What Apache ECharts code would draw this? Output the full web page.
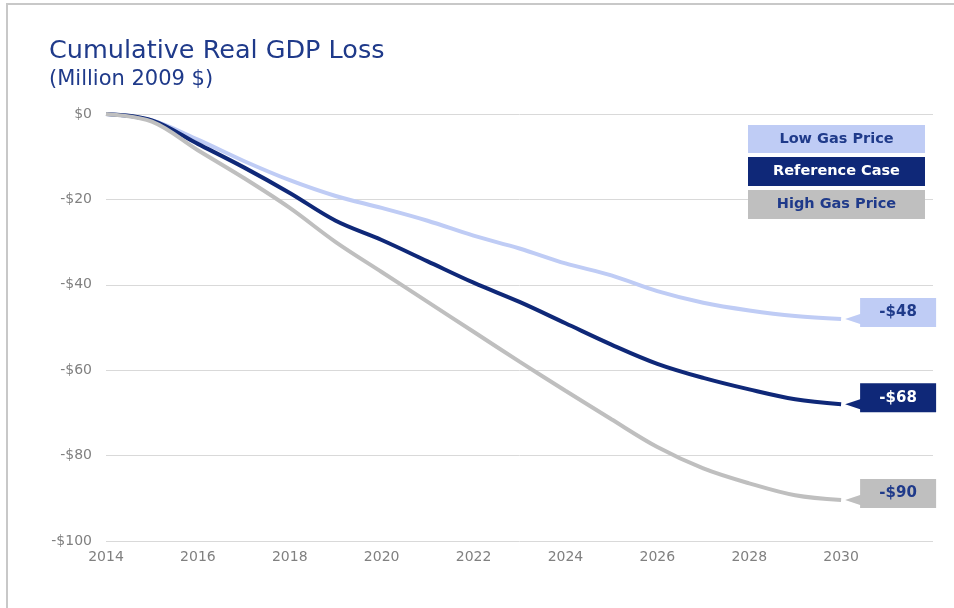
<!DOCTYPE html>
<html>
<head>
<meta charset="utf-8">
<script src="https://cdn.jsdelivr.net/npm/echarts@6/dist/echarts.min.js"></script>
<style>
  html, body { margin: 0; padding: 0; background: #fff; }
  #frame { position: absolute; left: 6px; top: 3px; width: 960px; height: 620px; border-left: 2px solid #c8c8c8; border-top: 2px solid #c8c8c8; }
  #chart { position: absolute; left: 0; top: 0; width: 954px; height: 608px; }
</style>
</head>
<body>
<div id="frame"></div>
<div id="chart"></div>
<script>
var years = [2014, 2015, 2016, 2017, 2018, 2019, 2020, 2021, 2022, 2023, 2024, 2025, 2026, 2027, 2028, 2029, 2030];
var lowGas = [0, -1.5, -6, -11, -15.5, -19.2, -22, -25, -28.5, -31.5, -35, -37.8, -41.5, -44.2, -46, -47.3, -48];
var refCase = [0, -1.5, -7, -12.5, -18.5, -25, -29.5, -34.5, -39.5, -44, -49, -54, -58.5, -61.8, -64.5, -66.8, -68];
var highGas = [0, -1.8, -8.5, -15, -22, -30, -37, -44, -51, -58, -64.8, -71.5, -78, -83, -86.5, -89.3, -90.4];
var seriesNames = ['Low Gas Price', 'Reference Case', 'High Gas Price'];
var yTicks = [0, -20, -40, -60, -80, -100];

var colors = { low: '#BFCCF5', ref: '#0F2878', high: '#BFBFBF' };
var textNavy = '#1F3A8A';
var font = 'DejaVu Sans';

function pairs(vals) { return vals.map(function (v, i) { return [years[i], v]; }); }
function money(v) { return v === 0 ? '$0' : '-$' + Math.abs(Math.round(v)); }

var calloutPath = 'path://M0 21 L15 16 L15 0 L91 0 L91 29 L15 29 L15 26 Z';

function makeSeries(name, vals, color, labelColor) {
  var last = vals[vals.length - 1];
  return {
    name: name,
    type: 'line',
    data: pairs(vals),
    smooth: 0.35,
    showSymbol: false,
    symbol: 'none',
    lineStyle: { color: color, width: 4 },
    itemStyle: { color: color },
    markPoint: {
      silent: true,
      symbol: calloutPath,
      symbolSize: [91, 29],
      symbolOffset: [49.5, -6.5],
      itemStyle: { color: color },
      label: {
        show: true,
        position: 'inside',
        offset: [7.5, 0],
        color: labelColor,
        fontFamily: font,
        fontWeight: 'bold',
        fontSize: 15,
        formatter: function (p) { return money(p.value); }
      },
      data: [{ coord: [years[years.length - 1], last], value: last }]
    }
  };
}

var chart = echarts.init(document.getElementById('chart'), null, { renderer: 'canvas' });
var option = {
  backgroundColor: 'transparent',
  animation: false,
  title: {
    left: 44,
    top: 33,
    text: 'Cumulative Real GDP Loss',
    subtext: '(Million 2009 $)',
    itemGap: 5,
    textStyle: { fontFamily: font, fontSize: 25.5, fontWeight: 'normal', color: textNavy },
    subtextStyle: { fontFamily: font, fontSize: 21, color: textNavy }
  },
  legend: {
    orient: 'vertical',
    left: 743,
    top: 125,
    padding: 0,
    itemGap: 4,
    itemWidth: 0,
    itemHeight: 0,
    icon: 'none',
    selectedMode: false,
    data: seriesNames,
    formatter: function (name) {
      var key = name === seriesNames[0] ? 'lo' : (name === seriesNames[1] ? 'rf' : 'hi');
      return '{' + key + '|' + name + '}';
    },
    textStyle: {
      fontFamily: font,
      rich: {
        lo: { width: 177, height: 28, lineHeight: 28, align: 'center', backgroundColor: colors.low, color: textNavy, fontWeight: 'bold', fontSize: 14.5, fontFamily: font },
        rf: { width: 177, height: 29, lineHeight: 29, align: 'center', backgroundColor: colors.ref, color: '#ffffff', fontWeight: 'bold', fontSize: 14.5, fontFamily: font },
        hi: { width: 177, height: 29, lineHeight: 29, align: 'center', backgroundColor: colors.high, color: textNavy, fontWeight: 'bold', fontSize: 14.5, fontFamily: font }
      }
    }
  },
  grid: { left: 106, top: 114, right: 21, bottom: 67, containLabel: false },
  xAxis: {
    type: 'value',
    min: 2014,
    max: 2032,
    interval: 2,
    axisLine: { show: false },
    axisTick: { show: false },
    splitLine: { show: false },
    axisLabel: {
      color: '#808080',
      fontFamily: font,
      fontSize: 14,
      margin: 9,
      showMaxLabel: false,
      formatter: function (v) { return v > years[years.length - 1] ? '' : String(v); }
    }
  },
  yAxis: {
    type: 'value',
    min: yTicks[yTicks.length - 1],
    max: yTicks[0],
    interval: 20,
    axisLine: { show: false },
    axisTick: { show: false },
    splitLine: { lineStyle: { color: '#d9d9d9', width: 1 } },
    axisLabel: {
      color: '#808080',
      fontFamily: font,
      fontSize: 14,
      margin: 14,
      formatter: money
    }
  },
  series: [
    makeSeries(seriesNames[0], lowGas, colors.low, textNavy),
    makeSeries(seriesNames[1], refCase, colors.ref, '#ffffff'),
    makeSeries(seriesNames[2], highGas, colors.high, textNavy)
  ]
};
chart.setOption(option);
</script>
</body>
</html>
